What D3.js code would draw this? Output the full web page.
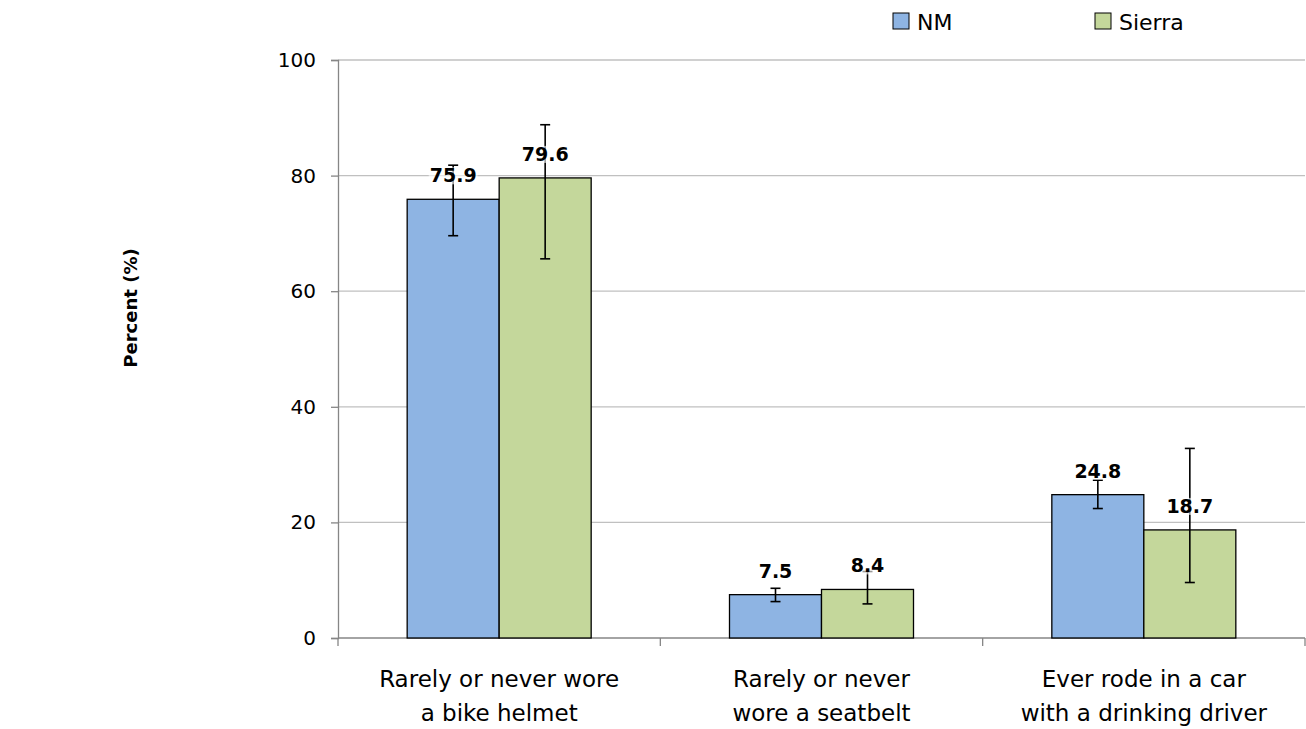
<!DOCTYPE html>
<html><head><meta charset="utf-8">
<script src="https://cdn.jsdelivr.net/npm/d3@7"></script>
<style>body{margin:0;background:#fff;} text{font-family:"DejaVu Sans",sans-serif;}</style>
</head><body>
<svg id="chart" width="1306" height="729"></svg>
<script>
const categories = [["Rarely or never wore","a bike helmet"],["Rarely or never","wore a seatbelt"],["Ever rode in a car","with a drinking driver"]];
const seriesNames = ["NM","Sierra"];
const nmValues = [75.9, 7.5, 24.8];
const sierraValues = [79.6, 8.4, 18.7];
const nmLow = [69.6, 6.3, 22.4];
const nmHigh = [81.8, 8.6, 27.3];
const sierraLow = [65.6, 5.9, 9.6];
const sierraHigh = [88.8, 11.5, 32.8];
const yTicks = [0,20,40,60,80,100];
const colors = ["#8EB4E3","#C4D79B"];

(function(){
const FONT = "'DejaVu Sans',sans-serif";
const svg = d3.select("#chart");
const mLeft = 338, mRight = 1305, mTop = 60, mBottom = 638;
const y = d3.scaleLinear().domain([0,100]).range([mBottom, mTop]);
const x0 = d3.scaleBand().domain(d3.range(categories.length)).range([mLeft, mRight]).padding(0);
const x1 = d3.scaleBand().domain(d3.range(2)).range([0, 184]);

// gridlines
svg.append("g").selectAll("line").data(yTicks.filter(d=>d>0)).join("line")
  .attr("x1", mLeft).attr("x2", mRight).attr("y1", d=>y(d)).attr("y2", d=>y(d))
  .attr("stroke","#c0c0c0").attr("stroke-width",1.3);

// y axis
const yAxis = d3.axisLeft(y).tickValues(yTicks).tickSize(7).tickPadding(15);
const gy = svg.append("g").attr("transform",`translate(${mLeft},0)`).call(yAxis);
gy.select(".domain").attr("stroke","#868686").attr("stroke-width",1.3);
gy.selectAll(".tick line").attr("stroke","#868686").attr("stroke-width",1.3);
gy.selectAll(".tick text").attr("font-size","20px").attr("fill","#000").style("font-family",FONT);

// x axis
const gx = svg.append("g").attr("transform",`translate(0,${mBottom})`);
gx.append("line").attr("x1",mLeft).attr("x2",mRight).attr("stroke","#868686").attr("stroke-width",1.3);
gx.selectAll("line.tk").data(d3.range(categories.length+1)).join("line").attr("class","tk")
  .attr("x1", d=> d<categories.length ? x0(d) : mRight).attr("x2", d=> d<categories.length ? x0(d) : mRight)
  .attr("y1",0).attr("y2",8).attr("stroke","#868686").attr("stroke-width",1.3);
const catText = gx.selectAll("text.cat").data(categories).join("text").attr("class","cat")
  .attr("x",(d,i)=>x0(i)+x0.bandwidth()/2).attr("text-anchor","middle")
  .attr("font-size","23px").attr("fill","#000");
catText.selectAll("tspan").data(d=>d).join("tspan")
  .attr("x",function(){return this.parentNode.getAttribute("x");})
  .attr("y",(d,i)=>49+i*33.5).text(d=>d);

// bars
const data = [];
categories.forEach((c,i)=>{
  data.push({c:i,s:0,v:nmValues[i],lo:nmLow[i],hi:nmHigh[i]});
  data.push({c:i,s:1,v:sierraValues[i],lo:sierraLow[i],hi:sierraHigh[i]});
});
const bx = d => x0(d.c) + (x0.bandwidth()-184)/2 + x1(d.s);
svg.append("g").selectAll("rect").data(data).join("rect")
  .attr("x", bx).attr("width", x1.bandwidth())
  .attr("y", d=>y(d.v)).attr("height", d=>y(0)-y(d.v))
  .attr("fill", d=>colors[d.s]).attr("stroke","#000").attr("stroke-width",1.3);

// error bars
const eg = svg.append("g").attr("stroke","#000").attr("stroke-width",1.6);
data.forEach(d=>{
  const cx = bx(d) + x1.bandwidth()/2;
  eg.append("line").attr("x1",cx).attr("x2",cx).attr("y1",y(d.lo)).attr("y2",y(d.hi));
  eg.append("line").attr("x1",cx-5).attr("x2",cx+5).attr("y1",y(d.lo)).attr("y2",y(d.lo));
  eg.append("line").attr("x1",cx-5).attr("x2",cx+5).attr("y1",y(d.hi)).attr("y2",y(d.hi));
});

// labels with translucent background
const lg = svg.append("g");
data.forEach(d=>{
  const cx = bx(d) + x1.bandwidth()/2;
  const t = lg.append("text").attr("x",cx).attr("y",y(d.v)-17).attr("text-anchor","middle")
    .attr("font-size","19px").attr("font-weight","bold").attr("fill","#000").text(d.v.toFixed(1));
  const bb = t.node().getBBox();
  lg.insert("rect","text").attr("x",bb.x-1).attr("y",bb.y+3).attr("width",bb.width+2).attr("height",bb.height-5)
    .attr("fill","#fff").attr("fill-opacity",0.6);
});
lg.selectAll("text").raise();

// y title
svg.append("text").attr("transform","translate(137,308) rotate(-90)").attr("text-anchor","middle")
  .attr("font-size","18px").attr("font-weight","bold").text("Percent (%)");

// legend
const legX = [893, 1095];
seriesNames.forEach((n,i)=>{
  svg.append("rect").attr("x",legX[i]).attr("y",13).attr("width",16).attr("height",16)
    .attr("fill",colors[i]).attr("stroke","#000").attr("stroke-width",1);
  svg.append("text").attr("x",legX[i]+24).attr("y",29.5).attr("font-size","22px").text(n);
});
})();
</script>
</body></html>
